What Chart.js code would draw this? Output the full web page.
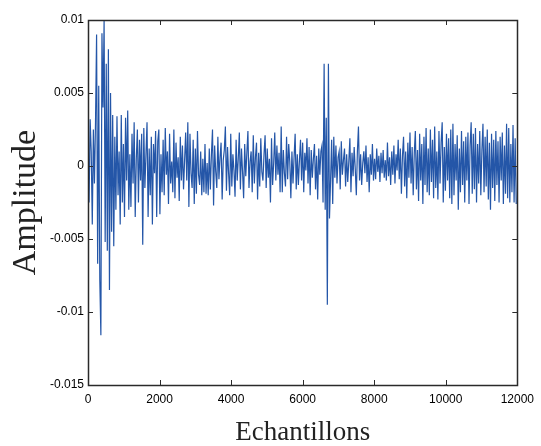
<!DOCTYPE html>
<html>
<head>
<meta charset="utf-8">
<script src="https://cdn.jsdelivr.net/npm/chart.js@4.4.0/dist/chart.umd.min.js"></script>
<style>
  html, body { margin: 0; padding: 0; background: #ffffff; }
  #wrap { width: 541px; height: 446px; position: relative; }
</style>
</head>
<body>
<div id="wrap"><canvas id="c" width="541" height="446"></canvas></div>
<script>
// ---- Data ----
const sampleStart = 0;          // first sample index
const sampleStep = 30;          // samples between stored values
// amplitude values in units of 1e-3
const amplitudeMilli = [
  // 0 .. 570
  2.0, -2.5, 3.2, 1.0, -4.0, 2.5, -1.2, 3.0, 9.0, -6.7, 5.5, -7.8, -11.6, 9.1, 4.0, 10.0, -5.2, 7.0, -5.8, 8.0,
  // 600 .. 1170
  -8.5, 5.0, -4.5, 3.5, -5.5, 2.0, -3.0, 3.4, -2.0, 1.0, -4.0, 3.5, -2.5, 1.5, -3.5, 3.3, -1.0, 3.8, -3.0, 0.8,
  // 1200 .. 1770
  -2.8, 2.2, -1.2, 3.0, -3.5, 0.5, 2.5, -2.5, 1.8, -1.0, 2.2, -5.4, 2.6, -1.5, 0.8, 3.0, -3.5, 1.2, -2.0, 2.0,
  // 1800 .. 2370
  -4.0, 1.5, -0.5, 2.4, -3.5, 1.7, 2.5, -3.3, 0.8, -1.8, 1.8, -2.0, 2.6, -0.6, 1.0, -2.6, 2.2, -1.2, 0.3, -1.8,
  // 2400 .. 2970
  2.5, -2.2, 1.6, -0.8, 0.6, -2.4, 2.0, -1.0, 1.4, -1.6, 0.4, 2.3, -1.0, 3.0, -2.8, 2.2, -0.5, -1.5, 1.8, -2.6,
  // 3000 .. 3570
  1.2, -1.9, 2.4, -0.6, -1.3, 1.0, -2.0, 0.5, -1.8, 1.5, -1.9, 0.2, -2.0, 1.2, -1.6, 0.8, 2.5, -2.7, 1.4, -0.4,
  // 3600 .. 4170
  -1.5, 2.0, -0.9, 0.6, 1.6, -2.3, 0.4, 1.1, 2.7, -1.7, 1.3, -0.5, -2.0, 2.2, -1.4, 0.8, -0.3, -2.1, 1.8, -1.0,
  // 4200 .. 4770
  0.5, 2.3, -1.6, 1.2, -0.4, -2.2, 1.5, -0.7, 0.9, 2.4, -1.5, 0.3, 1.0, -1.8, 2.1, -1.2, 0.6, 1.6, -2.3, 0.9,
  // 4800 .. 5370
  -1.4, 1.9, -0.4, -1.0, 0.8, 2.1, -1.5, 1.2, -0.8, 0.5, -2.5, 1.9, -1.3, 0.2, 2.3, -1.0, 1.4, -0.6, 0.9, -1.8,
  // 5400 .. 5970
  2.7, -1.8, 1.1, -0.5, -1.4, 2.0, -0.9, 1.5, 0.3, -2.2, 1.0, -1.2, 0.6, 2.2, -1.6, 0.8, -1.3, 0.4, 1.8, -1.0,
  // 6000 .. 6570
  1.6, -1.8, 0.9, -0.3, 1.9, -1.2, 1.3, -2.0, 1.1, -0.8, 0.5, 1.5, -1.6, 0.7, -2.3, 1.2, -0.6, 1.0, 1.4, -2.5,
  // 6600 .. 7170
  7.0, -3.0, 3.3, -9.5, 7.0, -3.6, -1.0, 1.8, -2.6, 2.0, -0.8, 1.4, -1.2, 0.6, 1.0, -1.6, 1.7, -0.6, 0.4, 1.2,
  // 7200 .. 7770
  -1.4, 0.8, -1.1, 0.3, 1.9, -1.8, 0.9, -0.7, 1.3, -0.2, -2.0, 1.0, 2.7, -1.0, 0.8, -1.3, 0.2, 1.0, -0.5, 1.4,
  // 7800 .. 8370
  -1.1, 0.6, -1.8, 0.8, -0.6, 1.5, -1.0, 0.5, -0.9, 1.2, -0.4, 0.7, -1.1, 0.9, -0.5, 1.1, -0.8, 0.4, -1.0, 1.6,
  // 8400 .. 8970
  -0.7, 0.6, -1.3, 1.0, -0.6, 1.4, -1.2, 0.8, -0.3, 1.8, -0.9, 1.2, -1.9, 0.7, 2.0, -1.4, 1.0, -2.2, 1.6, -0.8,
  // 9000 .. 9570
  2.3, -1.2, 1.3, -2.0, 0.9, 2.4, -1.6, 1.1, -2.4, 2.2, -1.0, 1.5, -2.6, 2.0, -1.3, 2.6, -1.8, 1.2, -2.0, 2.5,
  // 9600 .. 10170
  -1.1, 1.8, -2.2, 2.7, -1.5, 1.0, -2.3, 2.4, -1.2, 1.6, 3.0, -2.5, 1.3, -1.7, 2.2, -1.0, 1.9, -2.2, 2.5, -2.6,
  // 10200 .. 10770
  2.9, -2.0, 1.5, -1.0, 2.1, -3.0, 1.2, -1.8, 2.4, -1.3, 1.7, -2.5, 2.0, -1.0, 2.3, -2.6, 1.4, 3.0, -1.9, 2.2,
  // 10800 .. 11370
  -1.6, 2.6, -2.5, 1.5, -1.2, 2.4, -2.0, 1.1, 2.9, -1.8, 2.0, -1.4, 2.5, -2.3, 1.6, -3.0, 2.2, -1.5, 1.8, -2.4,
  // 11400 .. 11970
  2.4, -1.3, 1.7, -2.5, 2.0, -1.0, 2.3, -2.6, 1.4, -1.9, 2.9, -2.2, 2.6, -2.5, 1.5, -1.8, 2.8, -2.5, 1.9, -2.6
];
const xTickValues = [0, 2000, 4000, 6000, 8000, 10000, 12000];
const yTickLabels = ["-0.015", "-0.01", "-0.005", "0", "0.005", "0.01"];
const yTickValues = [-0.015, -0.01, -0.005, 0, 0.005, 0.01];
const xTitle = "Echantillons";
const yTitle = "Amplitude";

// ---- Build points ----
const points = amplitudeMilli.map((v, i) => ({ x: sampleStart + i * sampleStep, y: v / 1000 }));

const AREA = { left: 88, right: 519, top: 20, bottom: 385 };
const W = 541, H = 446;

const framePlugin = {
  id: 'frame',
  afterDatasetsDraw(chart) {
    const { ctx, chartArea: a, scales } = chart;
    ctx.save();
    ctx.strokeStyle = '#2a2a2a';
    ctx.lineWidth = 1.5;
    ctx.strokeRect(Math.round(a.left) + 0.5, Math.round(a.top) + 0.5,
                   Math.round(a.right - a.left), Math.round(a.bottom - a.top));
    ctx.lineWidth = 1;
    const tl = 5;
    scales.x.ticks.forEach(t => {
      const px = Math.round(scales.x.getPixelForValue(t.value)) + 0.5;
      ctx.beginPath();
      ctx.moveTo(px, a.bottom); ctx.lineTo(px, a.bottom - tl);
      ctx.moveTo(px, a.top); ctx.lineTo(px, a.top + tl);
      ctx.stroke();
    });
    scales.y.ticks.forEach(t => {
      const py = Math.round(scales.y.getPixelForValue(t.value)) + 0.5;
      ctx.beginPath();
      ctx.moveTo(a.left, py); ctx.lineTo(a.left + tl, py);
      ctx.moveTo(a.right, py); ctx.lineTo(a.right - tl, py);
      ctx.stroke();
    });
    ctx.restore();
  }
};

new Chart(document.getElementById('c'), {
  type: 'line',
  data: {
    datasets: [{
      data: points,
      borderColor: '#2456a8',
      borderWidth: 1.2,
      pointRadius: 0,
      tension: 0,
      fill: false
    }]
  },
  options: {
    responsive: false,
    animation: false,
    events: [],
    layout: { padding: { top: AREA.top, right: W - AREA.right, left: 0, bottom: 0 } },
    plugins: { legend: { display: false }, tooltip: { enabled: false } },
    scales: {
      x: {
        type: 'linear',
        min: 0, max: 12000,
        afterBuildTicks(s) { s.ticks = xTickValues.map(v => ({ value: v })); },
        grid: { display: false, drawTicks: false },
        border: { display: false },
        ticks: {
          padding: 7,
          maxRotation: 0,
          color: '#000',
          font: { family: 'Liberation Sans', size: 12 },
          callback: v => String(v)
        },
        title: {
          display: true, text: xTitle, color: '#222',
          font: { family: 'Liberation Serif', size: 27, lineHeight: 1.0 },
          padding: { top: 2, bottom: 0 }
        },
        afterFit(s) { s.height = H - AREA.bottom; }
      },
      y: {
        type: 'linear',
        min: -0.015, max: 0.01,
        afterBuildTicks(s) { s.ticks = yTickValues.map(v => ({ value: v })); },
        grid: { display: false, drawTicks: false },
        border: { display: false },
        ticks: {
          padding: 4,
          color: '#000',
          font: { family: 'Liberation Sans', size: 12 },
          callback: (v) => {
            const i = yTickValues.findIndex(t => Math.abs(t - v) < 1e-9);
            return i >= 0 ? yTickLabels[i] : '';
          }
        },
        title: {
          display: true, text: yTitle, color: '#222',
          font: { family: 'Liberation Serif', size: 34 },
          padding: { top: 6, bottom: 4 }
        },
        afterFit(s) { s.width = AREA.left; }
      }
    }
  },
  plugins: [framePlugin]
});
</script>
</body>
</html>
